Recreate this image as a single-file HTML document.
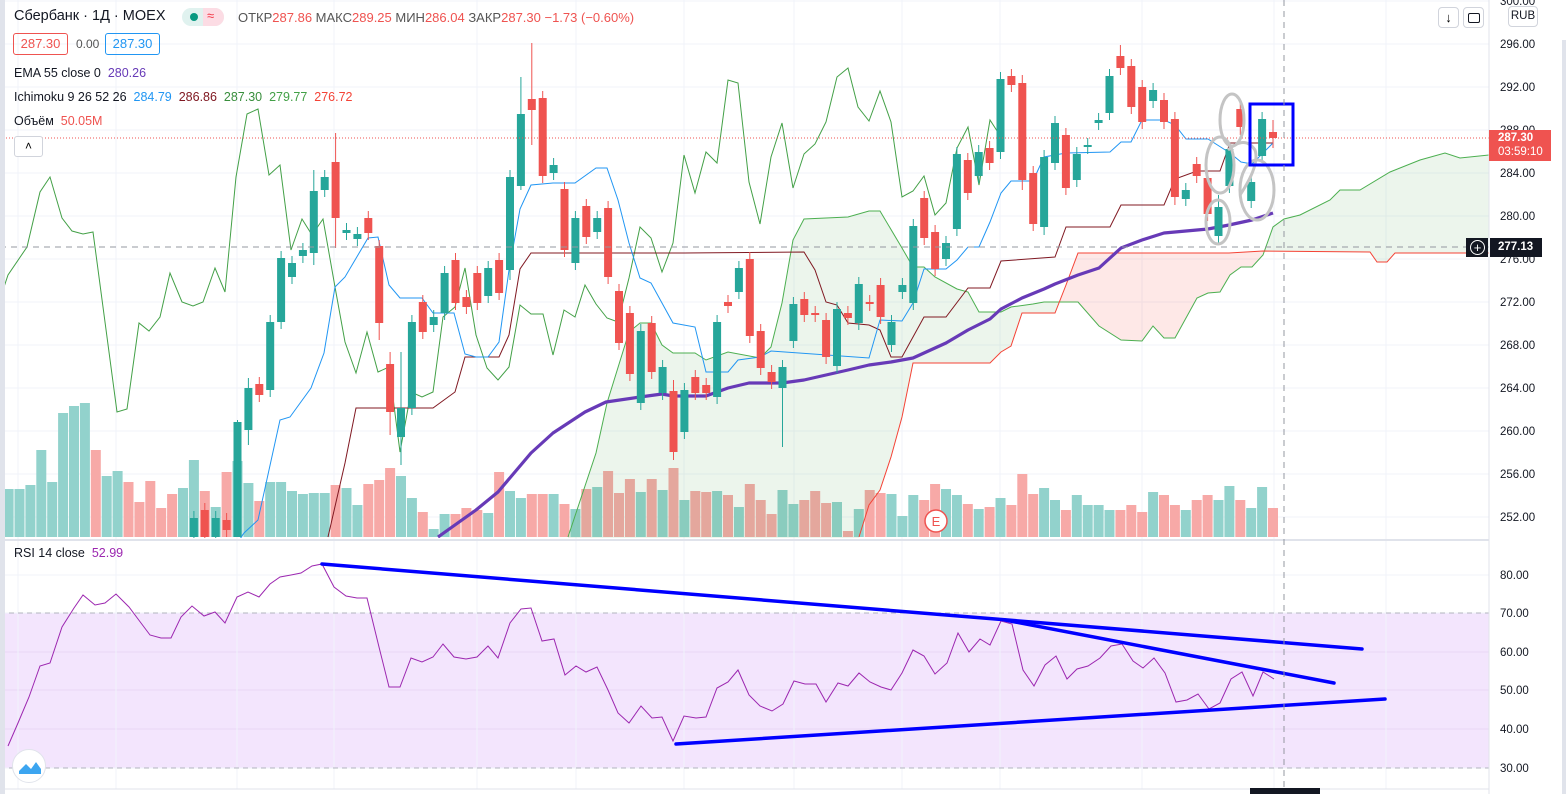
<!DOCTYPE html>
<html><head><meta charset="utf-8">
<style>
html,body{margin:0;padding:0;background:#fff;width:1566px;height:794px;overflow:hidden}
body{font-family:"Liberation Sans","Noto Sans CJK SC",sans-serif;position:relative}
.t{position:absolute;white-space:nowrap;font-size:13px;color:#131722}
.box{position:absolute;border-radius:3px;font-size:13px;text-align:center;box-sizing:border-box}
</style></head><body>
<svg id="s" width="1566" height="794" style="position:absolute;left:0;top:0" xmlns="http://www.w3.org/2000/svg">
<defs>
<clipPath id="mp"><rect x="0" y="0" width="1489" height="538"/></clipPath>
<clipPath id="gL"><rect x="0" y="0" width="1060" height="538"/></clipPath>
<clipPath id="gR"><rect x="1265" y="0" width="224" height="538"/></clipPath>
<clipPath id="rM"><rect x="1060" y="0" width="205" height="538"/></clipPath>
</defs>
<rect x="0" y="613" width="1489" height="155" fill="#f3e5fd"/>
<g id="grid" stroke="#f0f3fa" stroke-width="1"></g>
<g id="main" clip-path="url(#mp)"></g>
<g id="rsi"></g>
<g id="axis" font-family="Liberation Sans, sans-serif" font-size="11.5" fill="#131722"></g>
</svg>

<div class="t" style="left:14px;top:8px;font-size:14.5px">Сбербанк · 1Д · MOEX</div>
<div style="position:absolute;left:182px;top:8px;width:42px;height:18px;border-radius:9px;background:#e0f2ef;overflow:hidden">
 <div style="position:absolute;left:21px;top:0;width:21px;height:18px;background:#fcdce4"></div>
 <div style="position:absolute;left:8px;top:5px;width:8px;height:8px;border-radius:4px;background:#089981"></div>
 <div style="position:absolute;left:25px;top:0;font-size:13px;color:#f23645">≈</div>
</div>
<div class="t" style="left:238px;top:10px;font-size:13px;color:#555">ОТКР<span style="color:#ef5350">287.86</span> МАКС<span style="color:#ef5350">289.25</span> МИН<span style="color:#ef5350">286.04</span> ЗАКР<span style="color:#ef5350">287.30 −1.73 (−0.60%)</span></div>
<div class="box" style="left:13px;top:33px;width:55px;height:22px;line-height:20px;border:1px solid #ef5350;color:#ef5350">287.30</div>
<div class="t" style="left:76px;top:37px;font-size:12px;color:#555">0.00</div>
<div class="box" style="left:105px;top:33px;width:55px;height:22px;line-height:20px;border:1px solid #2196f3;color:#2196f3">287.30</div>
<div class="t" style="left:14px;top:66px;font-size:12.5px">EMA 55 close 0 &nbsp;<span style="color:#673ab7">280.26</span></div>
<div class="t" style="left:14px;top:90px;font-size:12.5px">Ichimoku 9 26 52 26 &nbsp;<span style="color:#2196f3">284.79</span>&nbsp; <span style="color:#801922">286.86</span>&nbsp; <span style="color:#388e3c">287.30</span>&nbsp; <span style="color:#43a047">279.77</span>&nbsp; <span style="color:#f44336">276.72</span></div>
<div class="t" style="left:14px;top:114px;font-size:12.5px">Объём &nbsp;<span style="color:#ef5350">50.05M</span></div>
<div style="position:absolute;left:14px;top:136px;width:27px;height:19px;border:1px solid #d1d4dc;border-radius:3px;background:#fff;text-align:center;font-size:12px;line-height:19px">˄</div>
<div class="t" style="left:14px;top:546px;font-size:12.5px">RSI 14 close &nbsp;<span style="color:#9c27b0">52.99</span></div>

<div style="position:absolute;left:1438px;top:7px;width:19px;height:19px;border:1px solid #d1d4dc;border-radius:4px;background:#fff;text-align:center;font-size:13px;line-height:19px">↓</div>
<div style="position:absolute;left:1463px;top:7px;width:19px;height:19px;border:1px solid #d1d4dc;border-radius:4px;background:#fff"><div style="position:absolute;left:4px;top:5px;width:10px;height:8px;border:1.5px solid #131722;border-radius:2px"></div></div>
<div style="position:absolute;left:1508px;top:6px;width:28px;height:19px;border:1px solid #d1d4dc;border-radius:4px;background:#fff;text-align:center;font-size:11.5px;line-height:19px;color:#131722">RUB</div>

<div style="position:absolute;left:1489px;top:130px;width:62px;height:30px;background:#ef5350;color:#fff;font-size:11.5px;font-weight:bold;line-height:14px;padding-top:1px"><div style="padding-left:9px">287.30</div><div style="padding-left:9px;font-weight:normal">03:59:10</div></div>
<div style="position:absolute;left:1466px;top:238px;width:22px;height:19px;background:#131722"></div>
<div style="position:absolute;left:1470px;top:240px;width:13px;height:13px;border:1.3px solid #fff;border-radius:50%;color:#fff;font-size:13px;line-height:13px;text-align:center">+</div>
<div style="position:absolute;left:1490px;top:238px;width:52px;height:19px;background:#131722;color:#fff;font-size:11.5px;font-weight:bold;line-height:19px;padding-left:8px;box-sizing:border-box">277.13</div>
<div style="position:absolute;left:1250px;top:788px;width:70px;height:6px;background:#131722"></div>
<div style="position:absolute;left:12px;top:749px;width:34px;height:34px;border-radius:50%;background:#fff;border:1px solid #e0e3eb;box-sizing:border-box"></div>
<svg style="position:absolute;left:17px;top:756px" width="26" height="20"><path d="M2 15 L9 8 L14 13 L19 6 L24 13 L24 18 L2 18Z" fill="#3ca5f0"/><path d="M2 13 L9 6 L14 11 L19 4 L24 11" stroke="#fff" stroke-width="2" fill="none"/></svg>
<div style="position:absolute;left:1562px;top:40px;width:4px;height:754px;background:#e0e3eb"></div>
<div style="position:absolute;left:0;top:0;width:5px;height:794px;background:#e0e3eb"></div>

<script>
const NS="http://www.w3.org/2000/svg";
function el(p,tag,a){const e=document.createElementNS(NS,tag);for(const k in a)e.setAttribute(k,a[k]);p.appendChild(e);return e;}
const S=document.getElementById('s'),G=document.getElementById('grid'),M=document.getElementById('main'),R=document.getElementById('rsi'),A=document.getElementById('axis');
const py=[1,44,87,130,173,216,259,302,345,388,431,474,517],pl=["300.00","296.00","292.00","288.00","284.00","280.00","276.00","272.00","268.00","264.00","260.00","256.00","252.00"];
py.forEach(y=>el(G,'line',{x1:0,x2:1489,y1:y,y2:y}));
const ry=[575,613,652,690,729,768],rl=["80.00","70.00","60.00","50.00","40.00","30.00"];
ry.forEach(y=>el(G,'line',{x1:0,x2:1489,y1:y,y2:y,stroke:(y>613&&y<768)?'#e8d8f5':'#f0f3fa'}));
[18,116,237,334,477,576,684,794,902,1000,1142,1274,1386].forEach(x=>el(G,'line',{x1:x,x2:x,y1:0,y2:789}));
py.forEach((y,i)=>{const t=el(A,'text',{x:1500,y:y+4});t.textContent=pl[i];});
ry.forEach((y,i)=>{const t=el(A,'text',{x:1500,y:y+4});t.textContent=rl[i];});
el(S,'line',{x1:1489,x2:1489,y1:0,y2:794,stroke:'#e0e3eb'});
el(S,'line',{x1:0,x2:1489,y1:540,y2:540,stroke:'#e0e3eb','stroke-width':2});
el(S,'line',{x1:0,x2:1489,y1:789,y2:789,stroke:'#e0e3eb'});
const vol=[489,489,485,450,482,413,406,403,450,476,471,482,502,481,508,494,488,460,491,507,472,461,483,501,482,482,491,494,493,493,485,488,505,484,480,468,476,498,512,529,514,514,508,510,513,472,491,498,494,494,494,504,509,489,487,471,493,479,
492,479,490,468,500,491,492,491,495,507,484,500,514,490,504,500,491,503,502,531,509,490,493,494,516,495,500,484,489,495,504,509,507,498,505,474,494,488,500,510,495,505,
505,510,510,505,512,492,495,505,510,500,495,500,486,500,508,487,508];
const vcol="ttttttttrttrrrrrt";
const C={17:[537,518],18:[510,537],19:[537,518],20:[520,530],21:[537,422],22:[430,388],23:[384,395],24:[390,322],25:[322,258],26:[277,263],27:[256,250],28:[253,191],29:[190,177],30:[162,218],31:[233,230],32:[239,234],33:[218,233],34:[246,323],35:[364,412],36:[437,408],37:[408,322],38:[302,332],39:[325,317],40:[313,273],41:[260,303],42:[297,307],43:[273,303],44:[296,268],45:[260,293],46:[270,177],47:[186,114],48:[99,110],49:[98,176],50:[173,165],51:[189,250],52:[263,218],53:[206,237],54:[232,218],55:[208,277],56:[291,343],57:[313,374],58:[403,331],59:[323,372],60:[393,367],61:[391,452],62:[432,390],63:[377,393],64:[385,393],65:[397,322],66:[302,306],67:[292,268],68:[259,336],69:[331,368],70:[372,382],71:[388,367],72:[341,304],73:[299,315],74:[313,315],75:[320,357],76:[366,309],77:[313,318],78:[323,284],79:[302,304],80:[285,317],81:[345,322],82:[292,285],83:[303,226],84:[198,238],85:[232,269],86:[259,243],87:[229,154],88:[160,193],89:[176,152],90:[148,163],91:[152,79],92:[76,85],93:[83,180],94:[173,224],95:[227,157],96:[163,123],97:[135,188],98:[180,154],99:[147,145],100:[123,120],101:[113,76],102:[56,68],103:[66,107],104:[87,122],105:[101,90],106:[100,122],107:[119,197],108:[199,190],109:[164,176],110:[178,214],111:[236,207],112:[186,149],113:[109,127],114:[201,182],115:[156,119],116:[132,138]};
const W={30:[133,248],21:[420,537],35:[352,435],36:[352,465],47:[77,190],48:[43,145],46:[170,280],61:[380,460],71:[360,447],93:[75,190],95:[150,235],102:[45,75],107:[112,205],111:[195,243],113:[100,135],116:[120,148],34:[240,340],22:[378,445],28:[170,265]};
const X=i=>1273-(116-i)*10.9;
const TE='#26a69a',RE='#ef5350';
for(let i=0;i<117;i++){
 let up;
 if(C[i]) up=C[i][1]<C[i][0]; else up=(vcol[i]||'t')==='t';
 el(M,'rect',{x:X(i)-5,y:vol[i],width:10,height:537-vol[i],fill:up?'#92d2cc':'#f7a9a7'});
}
const spanA=[[568,537],[596,453],[607,403],[629,332],[640,323],[651,323],[662,345],[673,353],[695,353],[706,360],[728,352],[760,358],[771,347],[782,303],[793,240],[804,219],[848,217],[869,211],[880,211],[902,248],[913,267],[924,267],[935,277],[957,289],[968,292],[979,312],[1001,312],[1011,307],[1033,304],[1044,302],[1078,302],[1099,326],[1121,340],[1142,341],[1153,326],[1164,338],[1175,338],[1197,298],[1208,293],[1220,292],[1230,275],[1241,267],[1252,267],[1263,255],[1273,227],[1284,219],[1300,215],[1330,200],[1340,190],[1360,190],[1390,172],[1420,160],[1445,153],[1460,158],[1489,155]];
const spanB=[[568,545],[859,545],[859,537],[869,505],[880,490],[891,457],[902,417],[913,363],[990,363],[1001,352],[1011,346],[1022,313],[1055,313],[1066,285],[1078,253],[1229,253],[1263,251],[1370,252],[1377,262],[1387,262],[1395,253],[1489,253]];
const pts=a=>a.map(p=>p.join(',')).join(' ');
const poly=pts(spanA.concat(spanB.slice().reverse()));
el(M,'polygon',{points:poly,fill:'rgba(67,160,71,0.1)','clip-path':'url(#gL)'});
el(M,'polygon',{points:poly,fill:'rgba(67,160,71,0.1)','clip-path':'url(#gR)'});
el(M,'polygon',{points:poly,fill:'rgba(244,67,54,0.12)','clip-path':'url(#rM)'});
el(M,'polyline',{points:pts(spanA),fill:'none',stroke:'#4caf50','stroke-width':1});
el(M,'polyline',{points:pts(spanB.slice(2)),fill:'none',stroke:'#f44336','stroke-width':1});
const lag=[[4,287],[8,275],[27,247],[40,192],[50,177],[62,218],[72,231],[83,234],[93,232],[117,412],[127,409],[139,323],[149,331],[160,317],[170,273],[182,302],[193,306],[203,302],[215,268],[225,292],[236,177],[247,114],[258,109],[269,175],[280,165],[291,250],[302,219],[312,235],[323,219],[335,287],[345,342],[356,373],[367,332],[378,372],[389,367],[400,452],[411,392],[422,397],[433,392],[443,317],[455,307],[465,268],[476,335],[487,368],[498,380],[509,367],[520,305],[531,314],[543,314],[553,355],[564,310],[575,317],[585,285],[596,304],[607,318],[618,322],[629,278],[640,227],[651,238],[662,272],[673,243],[684,155],[695,193],[706,152],[717,163],[728,80],[738,83],[749,182],[760,224],[771,157],[782,123],[793,188],[804,154],[815,144],[826,122],[837,77],[848,68],[858,107],[869,121],[880,91],[891,122],[902,197],[913,191],[924,176],[935,215],[946,203],[957,148],[968,127],[979,185],[990,120],[1001,137]];
el(M,'polyline',{points:pts(lag),fill:'none',stroke:'#43a047','stroke-width':1});
const base=[[328,537],[345,463],[356,408],[433,408],[455,392],[465,357],[499,357],[509,335],[520,269],[531,253],[684,253],[804,252],[815,270],[826,302],[837,305],[848,323],[869,325],[880,330],[891,357],[902,357],[924,317],[946,317],[968,288],[990,288],[1001,261],[1055,257],[1066,227],[1110,227],[1121,205],[1164,205],[1175,179],[1197,171],[1220,171],[1230,143],[1273,143]];
el(M,'polyline',{points:pts(base),fill:'none',stroke:'#801922','stroke-width':1});
const conv=[[236,545],[244,533],[258,520],[280,420],[290,417],[311,388],[324,353],[335,287],[345,277],[368,238],[378,237],[389,285],[400,298],[422,298],[433,313],[454,313],[465,354],[476,357],[488,357],[499,342],[509,270],[520,209],[531,185],[553,183],[575,183],[596,168],[607,168],[618,200],[629,243],[640,278],[651,283],[673,323],[695,327],[706,372],[728,372],[738,360],[760,357],[771,351],[869,358],[880,320],[902,321],[913,303],[924,269],[946,269],[957,260],[968,247],[979,247],[990,222],[1001,193],[1011,181],[1033,181],[1044,157],[1066,153],[1110,152],[1121,142],[1131,142],[1142,120],[1164,120],[1175,125],[1186,139],[1208,139],[1230,153],[1241,162],[1252,164],[1273,143]];
el(M,'polyline',{points:pts(conv),fill:'none',stroke:'#2196f3','stroke-width':1});
const ema=[[438,537],[476,510],[498,492],[531,453],[553,433],[585,412],[606,402],[640,397],[662,394],[673,396],[706,396],[728,388],[749,383],[782,383],[804,380],[826,375],[848,370],[869,365],[891,362],[913,358],[924,353],[946,343],[968,330],[990,319],[1001,309],[1022,298],[1044,289],[1055,284],[1078,275],[1099,268],[1121,248],[1142,240],[1164,233],[1208,229],[1229,225],[1252,220],[1273,213]];
el(M,'polyline',{points:pts(ema),fill:'none',stroke:'#673ab7','stroke-width':3.2,'stroke-linejoin':'round'});
for(let i=17;i<117;i++){const c=C[i];const up=c[1]<c[0];const col=up?TE:RE;const top=Math.min(c[0],c[1]),bot=Math.max(c[0],c[1]);
 const w=W[i]||[top-7,bot+7];
 el(M,'line',{x1:X(i),x2:X(i),y1:w[0],y2:w[1],stroke:col,'stroke-width':1});
 el(M,'rect',{x:X(i)-4,y:top,width:8,height:Math.max(1,bot-top),fill:col});}
el(M,'line',{x1:0,x2:1489,y1:138,y2:138,stroke:'#ef5350','stroke-dasharray':'1 2'});
el(M,'line',{x1:0,x2:1489,y1:247,y2:247,stroke:'#9598a1','stroke-dasharray':'6 5'});
el(S,'line',{x1:1284,x2:1284,y1:0,y2:788,stroke:'#9598a1','stroke-dasharray':'6 5'});
el(M,'circle',{cx:936,cy:521,r:11,fill:'#fff',stroke:'#ef5350','stroke-width':1.5});
const et=el(M,'text',{x:936,y:526,'text-anchor':'middle','font-size':13,fill:'#ef5350','font-family':'Liberation Sans, sans-serif'});et.textContent='E';
const ag=el(M,'g',{fill:'none',stroke:'#c4c4c4','stroke-width':3});
el(ag,'ellipse',{cx:1232,cy:120,rx:12,ry:26});
el(ag,'ellipse',{cx:1220,cy:165,rx:14,ry:28});
el(ag,'ellipse',{cx:1257,cy:190,rx:17,ry:30});
el(ag,'ellipse',{cx:1218,cy:222,rx:12,ry:22});
el(ag,'path',{d:'M1228,150 Q1245,135 1255,150 Q1260,165 1240,195'});
el(M,'rect',{x:1250,y:104,width:43,height:61,fill:'none',stroke:'#0000ff','stroke-width':3});
el(R,'line',{x1:0,x2:1489,y1:613,y2:613,stroke:'#b2b5be','stroke-dasharray':'5 4'});
el(R,'line',{x1:0,x2:1489,y1:768,y2:768,stroke:'#b2b5be','stroke-dasharray':'5 4'});
const rsi=[[8,746],[18,723],[29,697],[40,666],[50,663],[62,627],[74,608],[83,595],[95,605],[105,603],[116,594],[129,607],[141,623],[150,635],[161,638],[171,638],[181,617],[192,606],[204,616],[215,612],[225,623],[237,597],[248,592],[259,597],[270,584],[280,577],[291,575],[301,573],[312,566],[322,564],[334,587],[346,596],[357,598],[367,598],[379,647],[389,687],[400,687],[411,658],[422,662],[433,657],[443,644],[454,657],[466,659],[477,657],[488,646],[498,658],[510,623],[521,609],[531,608],[542,641],[554,639],[565,675],[576,666],[586,672],[597,667],[608,690],[618,713],[629,723],[641,706],[652,718],[662,717],[673,741],[684,716],[696,718],[706,717],[717,688],[728,682],[738,670],[749,695],[760,706],[772,711],[783,704],[794,681],[805,684],[816,684],[826,702],[838,683],[848,686],[859,673],[870,682],[881,687],[891,690],[902,673],[913,650],[924,656],[935,674],[947,663],[958,633],[969,652],[980,639],[990,645],[1001,621],[1012,624],[1023,670],[1034,686],[1045,665],[1056,656],[1067,679],[1077,669],[1088,666],[1100,658],[1111,646],[1122,644],[1133,661],[1143,668],[1154,658],[1165,673],[1176,702],[1187,700],[1198,694],[1209,709],[1220,703],[1231,679],[1242,672],[1253,696],[1263,672],[1274,679]];
el(R,'polyline',{points:pts(rsi),fill:'none',stroke:'#9c27b0','stroke-width':1});
const bl={stroke:'#0000ff','stroke-width':3.5,'stroke-linecap':'round'};
el(R,'line',Object.assign({x1:322,y1:564,x2:1362,y2:649},bl));
el(R,'line',Object.assign({x1:1005,y1:620,x2:1334,y2:683},bl));
el(R,'line',Object.assign({x1:676,y1:744,x2:1385,y2:699},bl));
</script>
</body></html>
